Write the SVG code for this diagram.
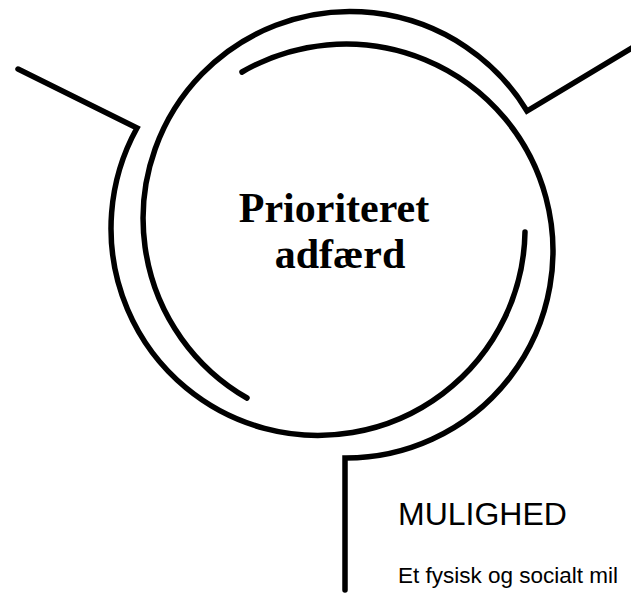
<svg xmlns="http://www.w3.org/2000/svg" width="631" height="595" viewBox="0 0 631 595">
<style>
.ln{fill:none;stroke:#000;stroke-width:5.5;stroke-linecap:round;stroke-linejoin:miter}
.title{font-family:"Liberation Serif","Times New Roman",serif;font-weight:bold;font-size:42px;fill:#000}
.head{font-family:"Liberation Sans",Arial,sans-serif;font-size:32px;fill:#000}
.body{font-family:"Liberation Sans",Arial,sans-serif;font-size:22.5px;fill:#000}
</style>
<rect width="631" height="595" fill="#fff"/>
<g id="connectors">
<path id="pathA" class="ln" d="M18,69 L137,128 A207,207 0 1 0 525,232"/>
<path id="pathB" class="ln" d="M640,43 L527,111 A207,207 0 1 0 247,398"/>
<path id="pathC" class="ln" d="M242,72 A207,207 0 1 1 345,458 L345,590"/>
</g>
<g id="center">
<text class="title" x="334" y="222" text-anchor="middle">Prioriteret</text>
<text class="title" x="340" y="268" text-anchor="middle">adfærd</text>
</g>
<g id="mulighed">
<text class="head" x="398" y="525">MULIGHED</text>
<text class="body" x="398" y="583">Et fysisk og socialt mil</text>
</g>
</svg>
